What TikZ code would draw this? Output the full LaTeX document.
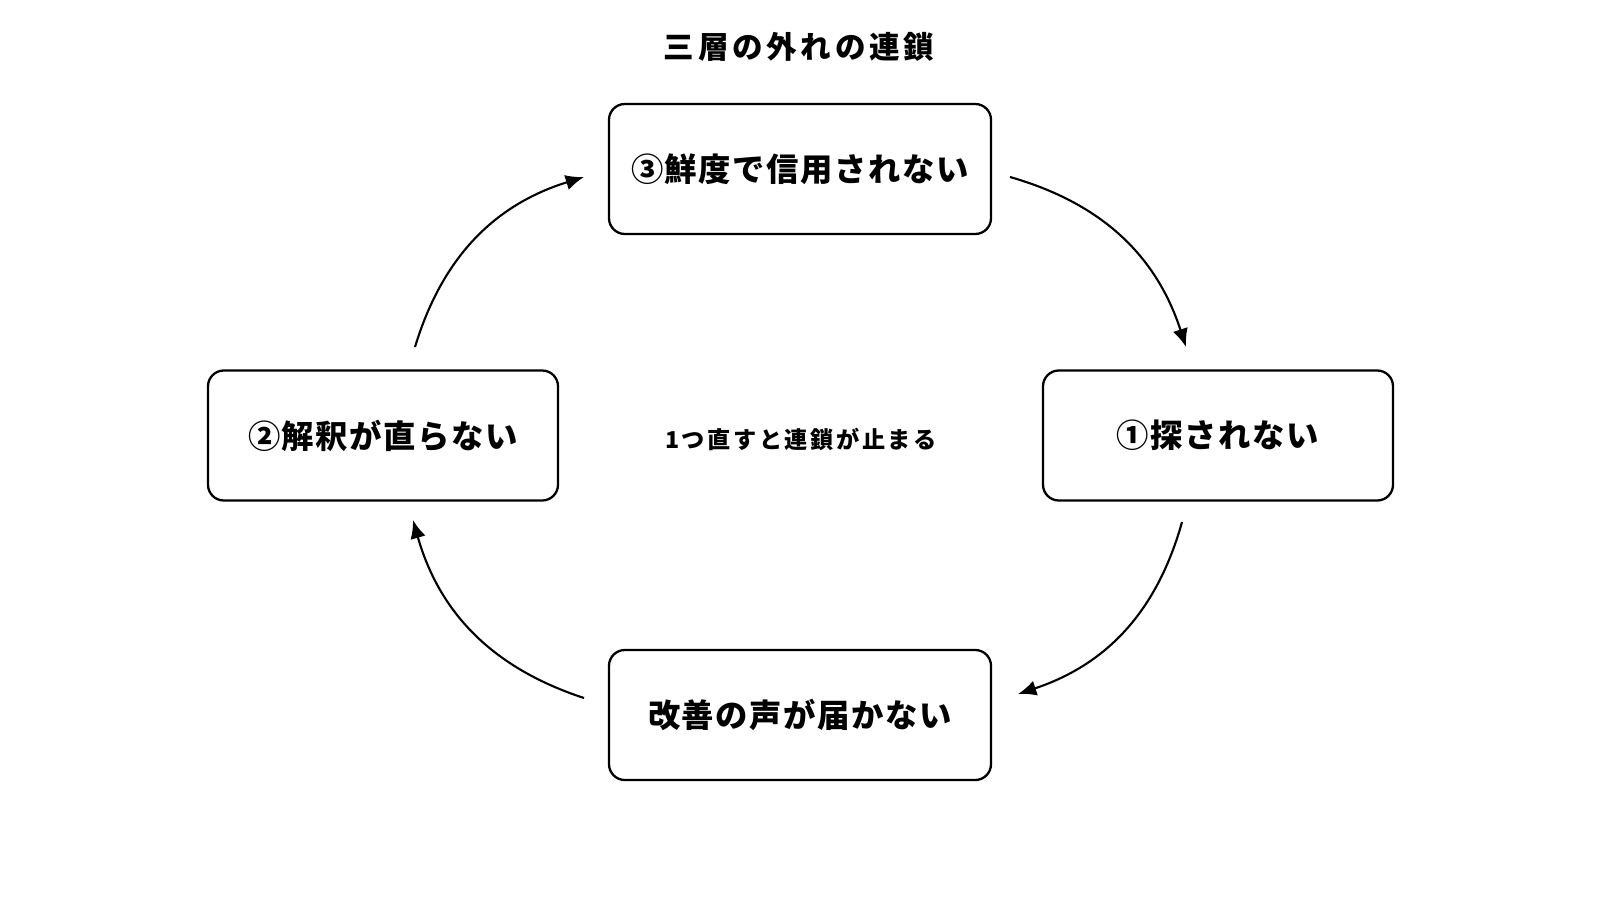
\documentclass[tikz,border=0pt]{standalone}
\usepackage{fontspec}
\usetikzlibrary{arrows.meta,positioning}
\newfontfamily\jpfont[LetterSpace=5]{Noto Sans CJK JP}
\newfontfamily\jpwide[LetterSpace=12]{Noto Sans CJK JP}
\newfontfamily\jpwider[LetterSpace=11]{Noto Sans CJK JP}
\tikzset{>={Latex[length=5.2pt,width=4.4pt]},
  stage/.style={draw,line width=.65pt,rounded corners=4.5pt,minimum width=3.82cm,minimum height=1.3cm,align=center,font=\jpfont\bfseries\fontsize{9.2}{11}\selectfont},
  arr/.style={->,line width=.6pt},
  headline/.style={font=\jpwide\bfseries\fontsize{8.7}{10}\selectfont},
  hint/.style={font=\jpwider\bfseries\fontsize{6.6}{8}\selectfont}}
\begin{document}
\begin{tikzpicture}
\useasboundingbox[fill=white] (0,0) rectangle (16,9);
\node[headline] (title) at (7.99,8.53) {三層の外れの連鎖};
% four stages of the loop
\node[stage] (fresh) at (8,7.31) {③鮮度で信用されない};
\node[stage,minimum width=3.5cm] (search) at (12.18,4.645) {①探されない};
\node[stage] (voice) at (8,1.85) {改善の声が届かない};
\node[stage,minimum width=3.5cm] (read) at (3.83,4.645) {②解釈が直らない};
\node[hint] (fix) at (8.01,4.61) {1つ直すと連鎖が止まる};
% arrow ends
\coordinate (a1) at (10.10,7.23);
\coordinate (b1) at (11.86,5.53);
\coordinate (a2) at (11.82,3.78);
\coordinate (b2) at (10.18,2.06);
\coordinate (a3) at (5.84,2.02);
\coordinate (b3) at (4.13,3.80);
\coordinate (a4) at (4.15,5.53);
\coordinate (b4) at (5.84,7.23);
\draw[arr] (a1) to[bend left=28] (b1);
\draw[arr] (a2) to[bend left=28] (b2);
\draw[arr] (a3) to[bend left=28] (b3);
\draw[arr] (a4) to[bend left=28] (b4);
\end{tikzpicture}
\end{document}
